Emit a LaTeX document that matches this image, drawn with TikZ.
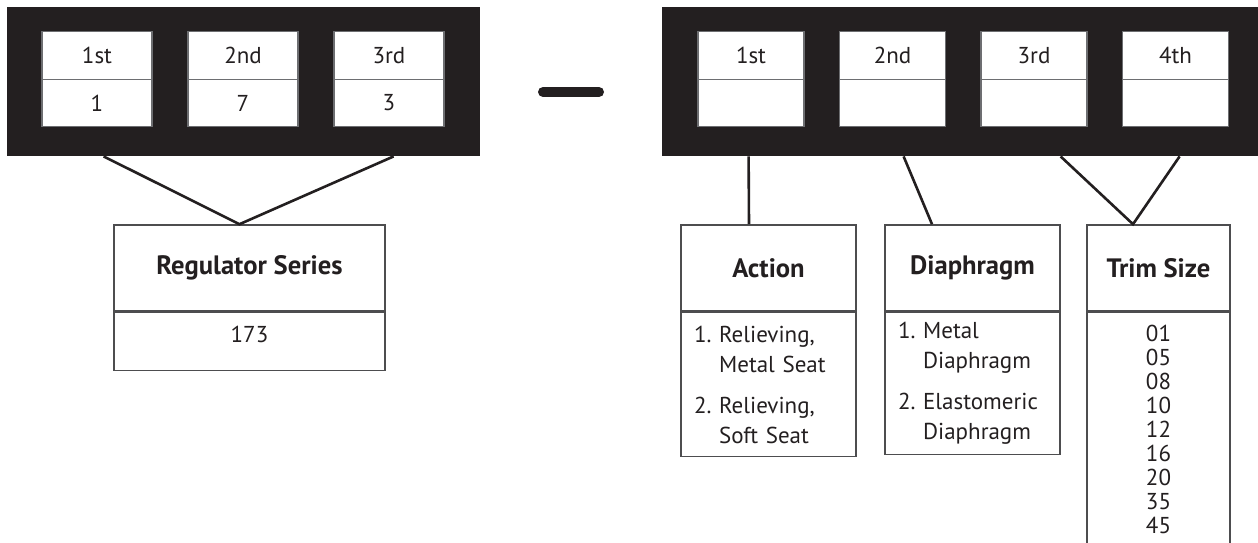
\documentclass[tikz,border=0pt]{standalone}
\usepackage{fontspec}
\setmainfont{PT Sans}
\definecolor{barblack}{HTML}{231F20}
\definecolor{cellgray}{HTML}{6D6E71}
\definecolor{boxgray}{HTML}{4D4D4F}

\begin{document}
\begin{tikzpicture}[x=0.5pt,y=-0.5pt,
    every node/.style={font=\fontsize{11.5}{15}\selectfont,text=barblack},
    bar/.style={fill=barblack,draw=none,minimum height=74.5pt,inner sep=0pt},
    cell/.style={draw=cellgray,line width=0.6pt,fill=white,minimum width=#1,minimum height=23.75pt,inner sep=0pt},
    title/.style={draw=boxgray,line width=0.8pt,minimum width=#1,minimum height=43pt,inner sep=0pt,font=\fontsize{13.3}{15}\selectfont\bfseries},
    list/.style={draw=boxgray,line width=0.8pt,minimum width=#1,text width=#1-13pt,inner xsep=6.5pt,align=left,anchor=north},
    conn/.style={draw=barblack,line width=1.3pt}]
    \useasboundingbox (0,0) rectangle (1258,542);
    % model number blocks
    \node[bar,minimum width=236.5pt] (lbar) at (243.5,81.5) {};
    \node[bar,minimum width=298pt] (rbar) at (960,81.5) {};
    \foreach \x/\t/\v [count=\i] in {97/1st/1,243/2nd/7,389/3rd/3} {
        \node[cell=55pt] (lt\i) at (\x,55.5) {\t};
        \node[cell=55pt] (lv\i) at (\x,103) {\v};
    }
    \foreach \x/\t [count=\i] in {751/1st,892.5/2nd,1034/3rd,1175.5/4th} {
        \node[cell=53pt] (rt\i) at (\x,55.5) {\t};
        \node[cell=53pt] (rv\i) at (\x,103) {};
    }
    \draw[barblack,line width=5pt,line cap=round] (543,92) -- (599,92);
    % description boxes
    \node[title=135.5pt] (reg) at (249.5,268) {Regulator Series};
    \node[list=135.5pt,minimum height=29pt,align=center,text depth=7pt] (regv) at (reg.south) {173};
    \node[title=87.5pt] (act) at (768.5,268) {Action};
    \node[list=87.5pt,minimum height=72pt] (actl) at (act.south)
        {1.\ Relieving,\\\hphantom{1.\ }Metal Seat\\[5.5pt]2.\ Relieving,\\\hphantom{2.\ }Soft Seat};
    \node[title=87.5pt] (dia) at (972.5,268) {Diaphragm};
    \node[list=87.5pt,minimum height=71pt] (dial) at (dia.south)
        {1.\ Metal\\\hphantom{1.\ }Diaphragm\\[5.5pt]2.\ Elastomeric\\\hphantom{2.\ }Diaphragm};
    \node[title=71.5pt] (trim) at (1158.5,268) {Trim Size};
    \node[list=71.5pt,minimum height=116.5pt,align=center,font=\fontsize{11.5}{12}\selectfont] (triml) at (trim.south)
        {01\\05\\08\\10\\12\\16\\20\\35\\45};
    % connectors
    \draw[conn] ([xshift=48.5pt]lbar.south west) -- ([xshift=-5pt]reg.north) -- ([xshift=193.5pt]lbar.south west);
    \draw[conn] ([xshift=43.5pt]rbar.south west) -- ([xshift=-9.75pt]act.north);
    \draw[conn] ([xshift=121pt]rbar.south west) -- ([xshift=-20.25pt]dia.north);
    \draw[conn] ([xshift=199.5pt]rbar.south west) -- ([xshift=-12.75pt]trim.north) -- ([xshift=259pt]rbar.south west);
\end{tikzpicture}
\end{document}
